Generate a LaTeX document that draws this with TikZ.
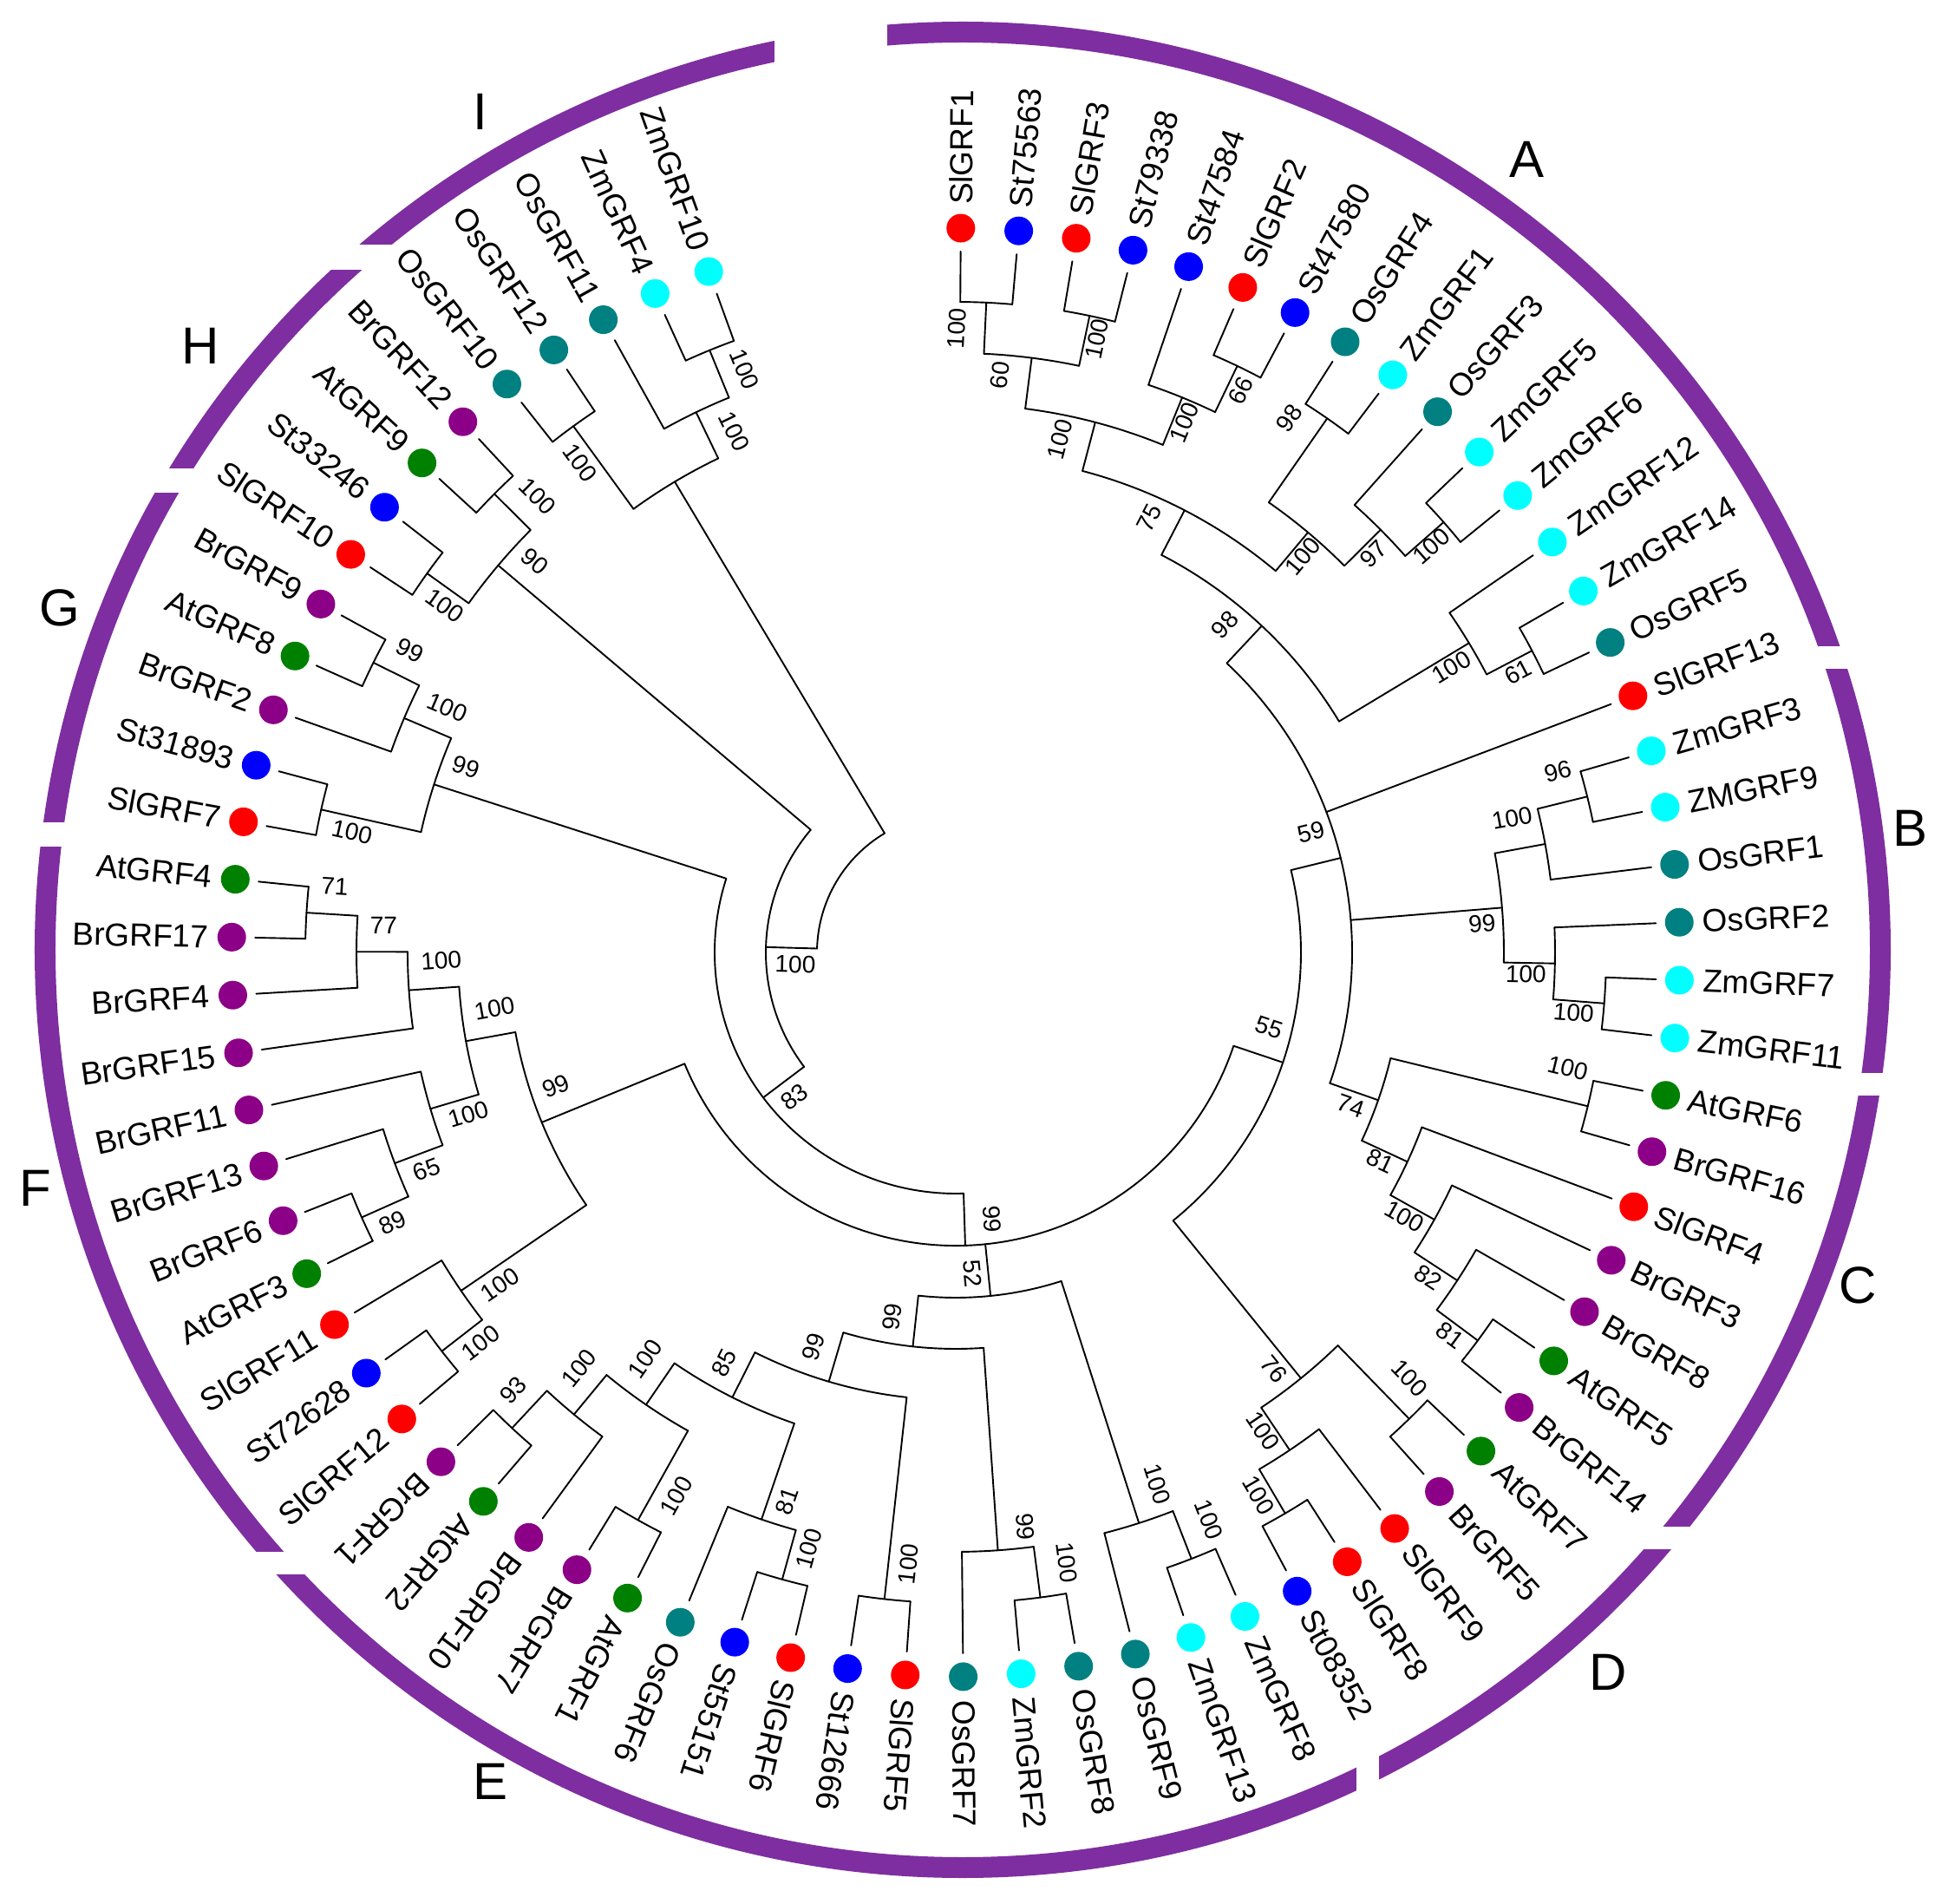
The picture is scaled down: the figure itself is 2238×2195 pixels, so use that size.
\documentclass[tikz,border=0pt]{standalone}
\usepackage{fontspec}
\setmainfont{Liberation Sans}
\definecolor{cSl}{RGB}{255,0,0}
\definecolor{cSt}{RGB}{0,0,255}
\definecolor{cOs}{RGB}{0,128,128}
\definecolor{cZm}{RGB}{0,255,255}
\definecolor{cAt}{RGB}{0,128,0}
\definecolor{cBr}{RGB}{140,0,135}
\definecolor{ringc}{RGB}{126,46,160}
\begin{document}
\begin{tikzpicture}[x=1pt,y=1pt,
  tree/.style={line width=1.9pt, black, line cap=round},
  dotn/.style={circle, inner sep=0pt, minimum size=33pt, draw=none},
  leaflab/.style={inner sep=0pt, font=\fontsize{37}{40}\selectfont},
  bs/.style={inner sep=0pt, font=\fontsize{28}{30}\selectfont},
  clade/.style={inner sep=0pt, font=\fontsize{60}{64}\selectfont}]
\useasboundingbox (-1102,-1097) rectangle (1136,1098);

% outer ring with gaps
\draw[ringc, line width=24pt] (8,3) circle[radius=1058pt];
\fill[white] (985,327) rectangle (1136,353);
\fill[white] (1030,-165) rectangle (1136,-139);
\fill[white] (780,-688) rectangle (870,-662);
\fill[white] (462,-985) rectangle (488,-915);
\fill[white] (-815,-717) rectangle (-740,-691);
\fill[white] (-1102,122) rectangle (-1010,150);
\fill[white] (-940,530) rectangle (-872,558);
\fill[white] (-728,787) rectangle (-648,816);
\fill[white] (-209,1015) rectangle (-79,1098);

% internal nodes: name/angle/radius/parent radius/arc start/arc end
\foreach \nm/\ang/\rad/\rpar/\sa/\sb in {
a1/87.305/750/691/89.60/85.01,
a2/78.125/750/691/80.42/75.83,
a3/82.715/691/632/87.305/78.125,
a4/64.355/750/691/66.65/62.06,
a4b/67.7975/691/632/71.24/64.355,
a5/75.256/632/574/82.715/67.7975,
a6/55.175/750/632/57.47/52.88,
a7/41.405/750/691/43.70/39.11,
a8/44.8475/691/632/48.29/41.405,
a9/50.011/632/574/55.175/44.8475,
a11/62.634/574/516/75.256/50.011,
a12/27.635/750/691/29.93/25.34,
a13/31.0775/691/516/34.52/27.635,
a14/46.856/516/457/62.634/31.0775,
b1/13.865/750/691/16.16/11.57,
b2/10.4225/691/632/13.865/6.98,
b3/-4.495/750/691/-2.20/-6.79,
b4/-1.0525/691/632/2.39/-4.495,
b5/4.685/632/457/10.4225/-1.0525,
c1/-13.675/750/516/-11.38/-15.97,
c5/-36.625/750/691/-34.33/-38.92,
c4/-33.1825/691/632/-29.74/-36.625,
c3/-29.166/632/574/-25.15/-33.1825,
c2/-24.863/574/516/-20.56/-29.166,
c0/-19.269/516/457/-13.675/-24.863,
X/13.7935/457/398/46.856/-19.269,
d1/-45.805/750/632/-43.51/-48.10,
d3/-59.575/750/691/-57.28/-61.87,
d2/-56.1325/691/632/-52.69/-59.575,
d0/-50.969/632/398/-45.805/-56.1325,
Y/-18.588/398/338/13.7935/-50.969,
e8/-68.755/750/691/-66.46/-71.05,
e9/-72.1975/691/398/-68.755/-75.64,
eos2/-82.525/750/691/-80.23/-84.82,
eos/-85.9675/691/457/-82.525/-89.41,
e5/-96.295/750/516/-94.00/-98.59,
e6/-105.475/750/691/-103.18/-107.77,
e81/-108.9175/691/574/-105.475/-112.36,
e17/-119.245/750/632/-116.95/-121.54,
e93/-133.015/750/691/-130.72/-135.31,
e100b/-129.5725/691/632/-126.13/-133.015,
e4/-124.409/632/574/-119.245/-129.5725,
e3/-116.663/574/516/-108.9175/-124.409,
e2/-106.479/516/457/-96.295/-116.663,
e1/-96.223/457/398/-85.9675/-106.479,
e52/-84.210/398/338/-72.1975/-96.223,
fsl2/-142.195/750/691/-139.90/-144.49,
fsl/-145.6375/691/516/-142.195/-149.08,
f7/-155.965/750/691/-153.67/-158.26,
f6/-159.4075/691/632/-155.965/-162.85,
f5/-163.424/632/574/-159.4075/-167.44,
f1/-183.505/750/691/-181.21/-185.80,
f2/-180.0625/691/632/-176.62/-183.505,
f3/-176.046/632/574/-172.03/-180.0625,
f4/-169.735/574/516/-163.424/-176.046,
f8/-157.686/516/338/-145.6375/-169.735,
Z/-88.137/338/278/-18.588/-157.686,
g1/-192.685/750/632/-190.39/-194.98,
g2/-206.455/750/691/-204.16/-208.75,
g3/-203.0125/691/632/-199.57/-206.455,
g4/-197.849/632/278/-192.685/-203.0125,
W/-142.993/278/219/-88.137/-197.849,
h1/-215.635/750/691/-213.34/-217.93,
h2/-224.815/750/691/-222.52/-227.11,
h0/-220.225/691/219/-215.635/-224.815,
M/-181.609/219/160/-142.993/-220.225,
ios/-233.995/750/632/-231.70/-236.29,
izm/-247.765/750/691/-245.47/-250.06,
ios11/-244.3225/691/632/-240.88/-247.765,
i0/-239.159/632/160/-233.995/-244.3225,
R/-210.384/160/160/-181.609/-239.159}
{
  \coordinate (\nm) at (\ang:\rad);
  \draw[tree] (\sa:\rad) arc[start angle=\sa, end angle=\sb, radius=\rad pt];
  \draw[tree] (\nm) -- (\ang:\rpar);
}

% leaves: name/colour/parent radius
\foreach \nm/\cl/\rp [count=\i from 0] in {
SlGRF1/cSl/750, St75563/cSt/750, SlGRF3/cSl/750, St79338/cSt/750, St47584/cSt/691,
SlGRF2/cSl/750, St47580/cSt/750, OsGRF4/cOs/750, ZmGRF1/cZm/750, OsGRF3/cOs/691,
ZmGRF5/cZm/750, ZmGRF6/cZm/750, ZmGRF12/cZm/691, ZmGRF14/cZm/750, OsGRF5/cOs/750,
SlGRF13/cSl/457, ZmGRF3/cZm/750, ZMGRF9/cZm/750, OsGRF1/cOs/691, OsGRF2/cOs/691,
ZmGRF7/cZm/750, ZmGRF11/cZm/750, AtGRF6/cAt/750, BrGRF16/cBr/750, SlGRF4/cSl/574,
BrGRF3/cBr/632, BrGRF8/cBr/691, AtGRF5/cAt/750, BrGRF14/cBr/750, AtGRF7/cAt/750,
BrGRF5/cBr/750, SlGRF9/cSl/691, SlGRF8/cSl/750, St08352/cSt/750, ZmGRF8/cZm/750,
ZmGRF13/cZm/750, OsGRF9/cOs/691, OsGRF8/cOs/750, ZmGRF2/cZm/750, OsGRF7/cOs/691,
SlGRF5/cSl/750, St12666/cSt/750, SlGRF6/cSl/750, St55151/cSt/750, OsGRF6/cOs/691,
AtGRF1/cAt/750, BrGRF7/cBr/750, BrGRF10/cBr/691, AtGRF2/cAt/750, BrGRF1/cBr/750,
SlGRF12/cSl/750, St72628/cSt/750, SlGRF11/cSl/691, AtGRF3/cAt/750, BrGRF6/cBr/750,
BrGRF13/cBr/691, BrGRF11/cBr/632, BrGRF15/cBr/632, BrGRF4/cBr/691, BrGRF17/cBr/750,
AtGRF4/cAt/750, SlGRF7/cSl/750, St31893/cSt/750, BrGRF2/cBr/691, AtGRF8/cAt/750,
BrGRF9/cBr/750, SlGRF10/cSl/750, St33246/cSt/750, AtGRF9/cAt/750, BrGRF12/cBr/750,
OsGRF10/cOs/750, OsGRF12/cOs/750, OsGRF11/cOs/691, ZmGRF4/cZm/750, ZmGRF10/cZm/750}
{
  \pgfmathsetmacro\th{89.6-4.59*\i}
  \node[dotn, fill=\cl] (dot\i) at (\th:835) {};
  \draw[tree] (\th:808) -- (\th:\rp);
  \ifnum\i<50
    \node[leaflab, anchor=west, rotate=\th] (lab\i) at (\th:862) {\nm};
  \else
    \pgfmathsetmacro\rt{\th+180}
    \node[leaflab, anchor=east, rotate=\rt] (lab\i) at (\th:862) {\nm};
  \fi
}

% bootstrap values: radius/angle/rotation/text
\foreach \rad/\ang/\rot/\v [count=\n] in {
719.4/89.9/87.3/100, 725.6/77.05/78.1/100, 667.4/85.6/82.7/60, 726.8/63.1/64.4/66,
665.4/66.7/67.8/100, 603.7/78.5/75.3/100, 726.2/58.05/55.2/98, 721/40.5/41.4/100,
665.5/43.6/44.8/97, 607/48.75/50.0/100, 548/66.0/62.6/75, 724.6/26.5/27.6/61,
659.4/29.9/31.1/100, 489/50.6/46.9/98, 432.4/18.72/13.8/59, 724.9/16.76/13.9/96,
659.7/13.57/10.4/100, 607.8/3.17/4.7/99, 657.9/-2.19/-1.1/100, 715.9/-5.59/-4.5/100,
718.1/-10.71/-13.7/100, 488.6/-21.23/-19.3/74, 545.8/-26.16/-24.9/81, 600.3/-30.47/-29.2/100,
661.3/-34.5/-33.2/82, 721.1/-37.75/-36.6/81, 371.8/-13.5/-18.6/55, 604.5/-52.66/-51.0/76,
717.4/-43.17/-45.8/100, 655.9/-57.31/-56.1/100, 716.4/-60.83/-59.6/100, 655.8/-69.25/-72.2/100,
716.3/-65.94/-68.8/100, 667.1/-83.06/-86.0/99, 714.6/-79.69/-82.5/100, 371/-87/-84.2/52,
310.5/-82.26/-88.1/99, 426.7/-99.9/83.8/99, 483.8/-109.8/73.5/99, 707/-94.42/83.7/100,
708/-103.84/74.5/100, 662/-107.1/71.1/81, 543.2/-119.5/63.3/85, 589.5/-127.4/55.6/100,
646.8/-132.2/50.4/100, 718/-135.3/47.0/93, 704.7/-117.2/60.8/100, 650/-143.9/34.4/100,
709.2/-140.6/37.8/100, 720.4/-154.4/24.0/89, 659.7/-157.7/20.6/65, 591.7/-161.6/16.6/100,
485.8/-161.5/22.3/99, 535.8/-173.1/10.3/100, 593.4/-179.1/4.0/100, 660.4/-182.73/-0.1/77,
720/-186.1/-3.5/71, 709.9/-191.27/-12.7/100, 603.7/-200.73/-17.9/99, 650.7/-205.74/-23.0/100,
719/-209.0/-26.5/99, 249.8/-138.2/37.0/83, 711.8/-214.14/-35.6/100, 662/-222.9/-40.2/90,
713/-227.47/-44.8/100, 185.5/-175.7/-1.6/100, 711.4/-232.5/-54.0/100, 652.5/-246.94/-64.3/100,
715/-250.1/-67.8/100}
{
  \node[bs, rotate=\rot] (bs\n) at (\ang:\rad) {\v};
}

% clade letters
\node[clade] (cA) at (659,914) {A};
\node[clade] (cB) at (1100,143) {B};
\node[clade] (cC) at (1040,-384) {C};
\node[clade] (cD) at (752,-830) {D};
\node[clade] (cE) at (-536,-956) {E};
\node[clade] (cF) at (-1061,-272) {F};
\node[clade] (cG) at (-1033,397) {G};
\node[clade] (cH) at (-871,699) {H};
\node[clade] (cI) at (-548,969) {I};
\end{tikzpicture}
\end{document}
